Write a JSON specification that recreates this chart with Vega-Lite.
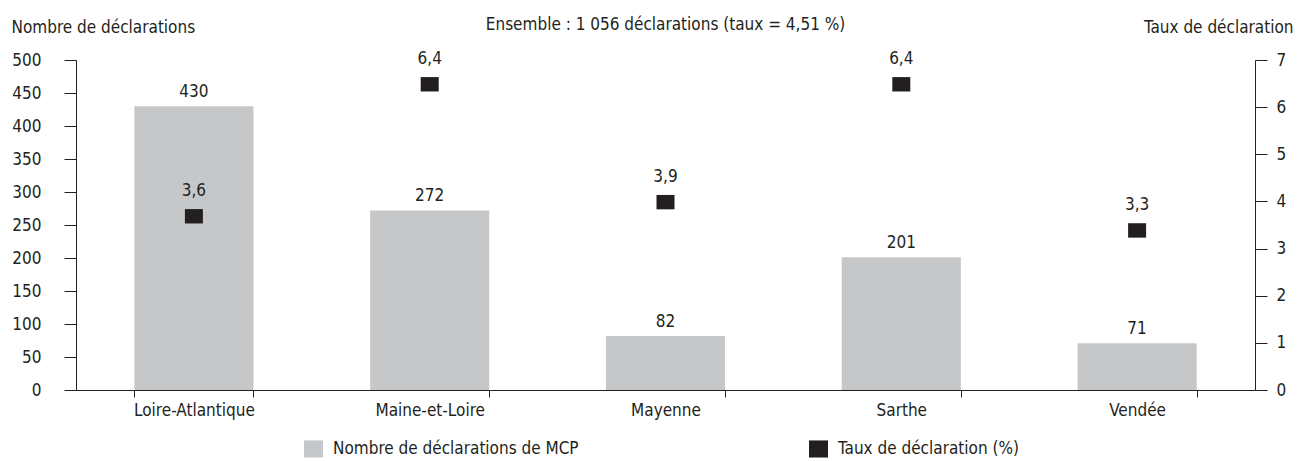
{
  "$schema": "https://vega.github.io/schema/vega-lite/v6.json",
  "width": 1179,
  "height": 330,
  "autosize": {"type": "none"},
  "padding": {"left": 76, "top": 60, "right": 43, "bottom": 71},
  "background": "white",
  "config": {
    "locale": {"number": {"decimal": ",", "thousands": " ", "grouping": [3], "currency": ["", " €"]}},
    "font": "DejaVu Sans Condensed",
    "view": {"stroke": null},
    "axis": {
      "labelFont": "DejaVu Sans Condensed",
      "labelFontSize": 17,
      "labelColor": "#231f20",
      "domainColor": "#231f20",
      "tickColor": "#231f20",
      "domainWidth": 1,
      "tickWidth": 1,
      "grid": false,
      "labelOverlap": false,
      "titleFont": "DejaVu Sans Condensed",
      "titleFontSize": 17,
      "titleFontWeight": "normal",
      "titleColor": "#231f20"
    },
    "legend": {
      "labelFont": "DejaVu Sans Condensed",
      "labelFontSize": 17,
      "labelColor": "#231f20",
      "labelLimit": 0
    },
    "text": {"font": "DejaVu Sans Condensed", "fontSize": 17, "color": "#231f20"}
  },
  "title": {
    "text": "Ensemble : 1 056 déclarations (taux = 4,51 %)",
    "anchor": "middle",
    "frame": "group",
    "font": "DejaVu Sans Condensed",
    "fontSize": 17,
    "fontWeight": "normal",
    "color": "#231f20",
    "baseline": "middle",
    "offset": 0,
    "dy": 24
  },
  "data": {
    "values": [
      {"departement": "Loire-Atlantique", "declarations": 430, "taux": 3.6},
      {"departement": "Maine-et-Loire", "declarations": 272, "taux": 6.4},
      {"departement": "Mayenne", "declarations": 82, "taux": 3.9},
      {"departement": "Sarthe", "declarations": 201, "taux": 6.4},
      {"departement": "Vendée", "declarations": 71, "taux": 3.3}
    ]
  },
  "encoding": {
    "x": {
      "field": "departement",
      "type": "nominal",
      "sort": null,
      "scale": {"paddingInner": 0.495, "paddingOuter": 0.2475},
      "axis": {
        "title": null,
        "labelAngle": 0,
        "tickBand": "extent",
        "tickSize": 7,
        "labelPadding": 5
      }
    }
  },
  "layer": [
    {
      "encoding": {
        "y": {
          "field": "declarations",
          "type": "quantitative",
          "scale": {"domain": [0, 500], "nice": false},
          "axis": {
            "orient": "left",
            "values": [0, 50, 100, 150, 200, 250, 300, 350, 400, 450, 500],
            "tickSize": 12,
            "labelPadding": 23,
            "title": "Nombre de déclarations",
            "titleAngle": 0,
            "titleAlign": "left",
            "titleBaseline": "middle",
            "titleX": -65,
            "titleY": -33
          }
        }
      },
      "layer": [
        {
          "mark": {"type": "bar", "opacity": 1},
          "encoding": {
            "color": {
              "datum": "Nombre de déclarations de MCP",
              "scale": {
                "domain": ["Nombre de déclarations de MCP", "Taux de déclaration (%)"],
                "range": ["#c6c7c9", "#231f20"]
              },
              "legend": {
                "title": null,
                "orient": "none",
                "direction": "horizontal",
                "legendX": 228,
                "legendY": 379,
                "symbolType": "M-1,-0.9H1V0.9H-1Z",
                "symbolSize": 361,
                "symbolStrokeWidth": 0,
                "symbolOpacity": 1,
                "labelOffset": 10,
                "columnPadding": 230,
                "padding": 0
              }
            }
          }
        },
        {
          "mark": {"type": "text", "baseline": "alphabetic", "dy": -9},
          "encoding": {
            "text": {"field": "declarations", "type": "quantitative", "format": "d"}
          }
        }
      ]
    },
    {
      "encoding": {
        "y": {
          "field": "taux",
          "type": "quantitative",
          "scale": {"domain": [0, 7], "nice": false},
          "axis": {
            "orient": "right",
            "values": [0, 1, 2, 3, 4, 5, 6, 7],
            "tickSize": 12,
            "labelPadding": 9,
            "title": "Taux de déclaration",
            "titleAngle": 0,
            "titleAlign": "right",
            "titleBaseline": "middle",
            "titleX": 38,
            "titleY": -33
          }
        }
      },
      "layer": [
        {
          "mark": {
            "type": "point",
            "shape": "M-1,-0.8H1V0.8H-1Z",
            "size": 324,
            "filled": true,
            "opacity": 1,
            "strokeWidth": 0,
            "yOffset": -4
          },
          "encoding": {
            "color": {"datum": "Taux de déclaration (%)"}
          }
        },
        {
          "mark": {"type": "text", "baseline": "alphabetic", "dy": -24},
          "encoding": {
            "text": {"field": "taux", "type": "quantitative", "format": ".1f"}
          }
        }
      ]
    }
  ],
  "resolve": {"scale": {"y": "independent"}}
}
